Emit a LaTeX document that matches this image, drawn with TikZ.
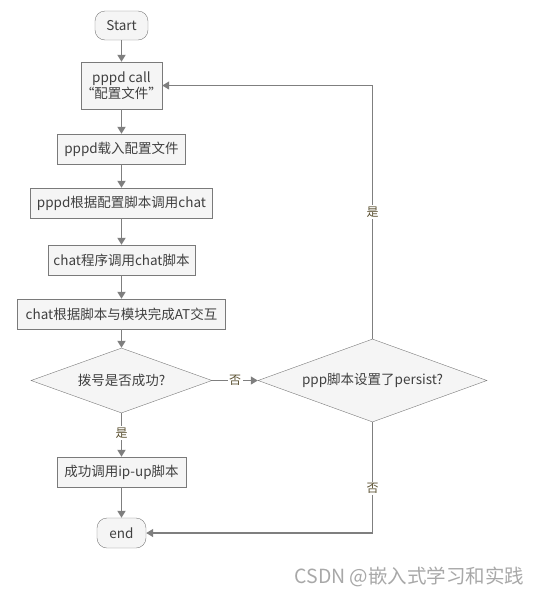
\documentclass[tikz,border=0pt]{standalone}
\usepackage{fontspec}
\setmainfont{Noto Sans CJK SC}
\usepackage{xcolor}
\usetikzlibrary{shapes.geometric, arrows.meta, positioning, calc}

\definecolor{boxfill}{HTML}{F5F5F5}
\definecolor{boxline}{HTML}{7A7A7A}
\definecolor{flowline}{HTML}{7F7F7F}
\definecolor{textgray}{HTML}{404040}
\definecolor{yesnocolor}{HTML}{5C5233}
\definecolor{markgray}{HTML}{A8A8A8}

\begin{document}
\begin{tikzpicture}[x=1pt, y=-1pt, font=\fontsize{13.5}{16}\selectfont]
    \tikzstyle{process} = [rectangle, draw=boxline, fill=boxfill, text=textgray, minimum height=30pt, inner sep=0pt, align=center]
    \tikzstyle{terminal} = [rectangle, rounded corners=10pt, draw=boxline, fill=boxfill, text=textgray, inner sep=0pt]
    \tikzstyle{decision} = [diamond, aspect=2.7, draw=boxline, fill=boxfill, text=textgray, inner sep=0pt]
    \tikzstyle{arrow} = [line width=1.8pt, draw=flowline, -{Triangle[width=8pt,length=7pt]}]
    \tikzstyle{loopline} = [line width=1.2pt, draw=flowline, -{Triangle[width=8pt,length=7pt]}]
    \tikzstyle{yesno} = [fill=white, text=yesnocolor, inner sep=1.5pt, font=\fontsize{12}{14}\selectfont]

    \useasboundingbox (0,0) rectangle (540,598);

    \node[terminal, minimum width=53pt, minimum height=29pt] (start) at (121.5,25.5) {Start};
    \node[process, minimum width=79pt, minimum height=47pt] (call) at (121.5,85.5) {pppd call\\“配置文件”};
    \node[process, minimum width=128pt] (load) at (121.5,149) {pppd载入配置文件};
    \node[process, minimum width=182pt] (callchat) at (121.5,203) {pppd根据配置脚本调用chat};
    \node[process, minimum width=147pt] (chatprog) at (121.5,260) {chat程序调用chat脚本};
    \node[process, minimum width=208pt] (atcmd) at (121.5,314) {chat根据脚本与模块完成AT交互};
    \node[decision, minimum width=181pt, minimum height=65pt] (dial) at (121.5,380.5) {拨号是否成功?};
    \node[decision, minimum width=229pt, minimum height=83pt] (persist) at (372.5,380.5) {ppp脚本设置了persist?};
    \node[process, minimum width=129pt] (ipup) at (121.5,472) {成功调用ip-up脚本};
    \node[terminal, minimum width=49pt, minimum height=30pt] (end) at (121.5,533) {end};

    \node[text=markgray, font=\fontsize{19.5}{22}\selectfont] (mark) at (409.5,577) {CSDN @嵌入式学习和实践};

    \draw[arrow] (start) -- (call);
    \draw[arrow] (call) -- (load);
    \draw[arrow] (load) -- (callchat);
    \draw[arrow] (callchat) -- (chatprog);
    \draw[arrow] (chatprog) -- (atcmd);
    \draw[arrow] (atcmd) -- (dial);
    \draw[arrow] (dial) -- node[yesno, pos=0.45] {是} (ipup);
    \draw[arrow] (ipup) -- (end);
    \draw[loopline] (dial) -- node[yesno, pos=0.5] {否} (persist);
    \draw[loopline] (persist.north) |- node[yesno, pos=0.25] {是} (call.east);
    \draw[loopline] (persist.south) |- node[yesno, pos=0.3] {否} (end.east);
\end{tikzpicture}
\end{document}
